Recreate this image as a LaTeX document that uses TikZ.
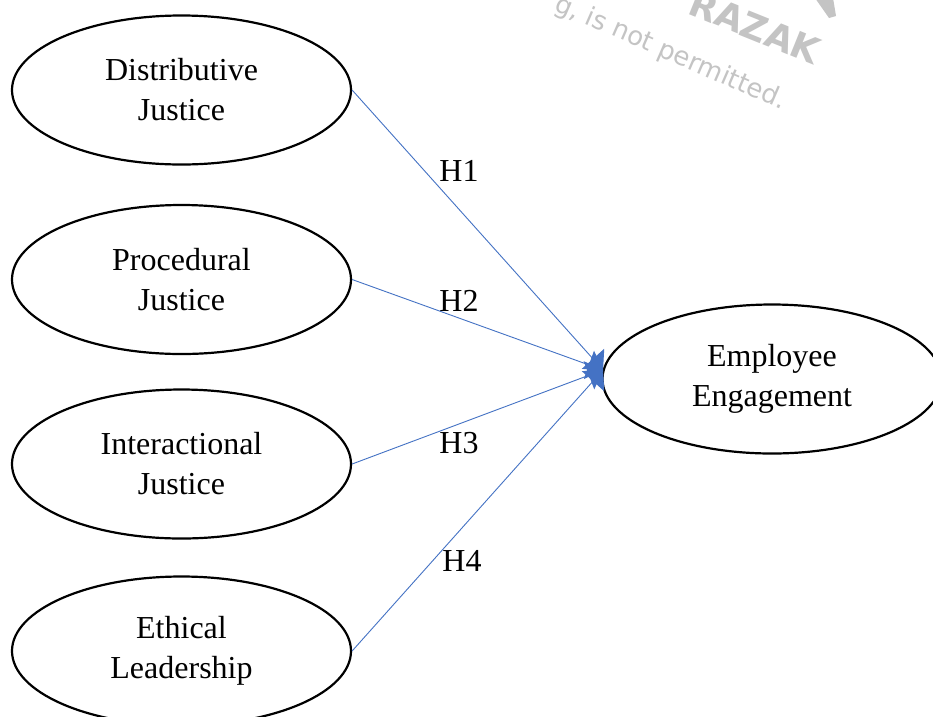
\documentclass[tikz,border=0pt]{standalone}
\usepackage{fontspec}
\setmainfont{Liberation Serif}
\newfontfamily\wmfont{DejaVu Sans}
\usetikzlibrary{arrows.meta,shapes.geometric}
\definecolor{linkblue}{HTML}{4472C4}
\definecolor{wmgray}{HTML}{C4C4C4}
\tikzset{
  construct/.style={draw=black, line width=2.2pt, ellipse, minimum width=339pt, minimum height=149pt, inner sep=0pt, align=center, font=\fontsize{32}{40}\selectfont},
  link/.style={draw=linkblue, line width=0.9pt, -{Triangle[length=15pt,width=30pt]}},
  hlabel/.style={inner sep=0pt, font=\fontsize{32}{40}\selectfont},
  watermark/.style={text=wmgray, inner sep=0pt}
}
\begin{document}
\begin{tikzpicture}[x=1pt,y=-1pt]
\useasboundingbox (0,0) rectangle (933,716);
\clip (0,0) rectangle (933,716);
\fill[white] (0,0) rectangle (933,716);
% watermark
\node[watermark, rotate=-22, anchor=base east, font=\wmfont\bfseries\fontsize{36}{36}\selectfont] (wm1) at (814,65) {RAZAK};
\node[watermark, rotate=-23.5, anchor=base west, font=\wmfont\fontsize{26}{26}\selectfont] (wm2) at (553,10) {g, is not permitted.};
\fill[wmgray] (815,-2) -- (833,-2) -- (836,16) -- (829,18) -- cycle;
% constructs
\node[construct] (dj) at (181.5,90) {Distributive\\Justice};
\node[construct] (pj) at (181.5,279.5) {Procedural\\Justice};
\node[construct] (ij) at (181.5,464) {Interactional\\Justice};
\node[construct] (el) at (181.5,651) {Ethical\\Leadership};
\node[construct] (ee) at (772,379) {Employee\\Engagement};
\coordinate (tip) at (603,370);
% links
\draw[link] (dj.east) -- (tip);
\draw[link] (pj.east) -- (tip);
\draw[link] (ij.east) -- (tip);
\draw[link] (el.east) -- (tip);
% labels
\node[hlabel] (h1) at (459,171) {H1};
\node[hlabel] (h2) at (459,301) {H2};
\node[hlabel] (h3) at (459,443) {H3};
\node[hlabel] (h4) at (462,561) {H4};
\end{tikzpicture}
\end{document}
